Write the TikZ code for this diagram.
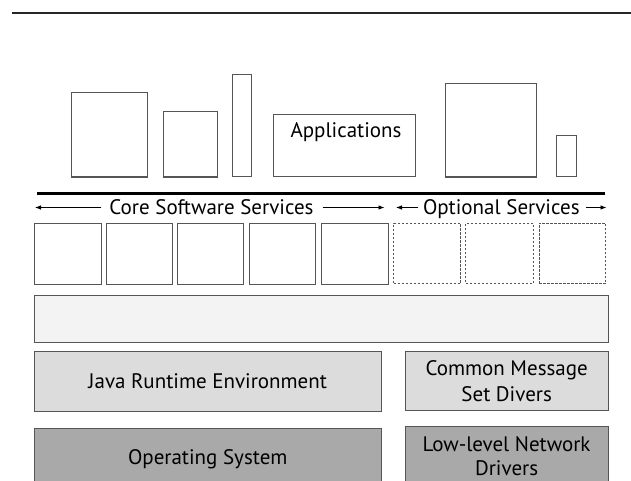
\documentclass[tikz,border=0pt]{standalone}
\usepackage{fontspec}
\setmainfont{PT Sans}
\usetikzlibrary{arrows.meta}
\definecolor{edge}{HTML}{555555}
\definecolor{paleband}{HTML}{F3F3F3}
\definecolor{lightlayer}{HTML}{DCDCDC}
\definecolor{darklayer}{HTML}{A9A9A9}
\tikzset{
  box/.style={draw=edge, line width=1pt, fill=white, anchor=north west, inner sep=0pt, outer sep=0pt},
  optbox/.style={box, dash pattern=on 2.5pt off 1.5pt},
  layer/.style={box, align=center, font=\fontsize{21}{25.5}\selectfont},
  label/.style={font=\fontsize{21}{26}\selectfont, inner sep=0pt, anchor=base},
  span/.style={line width=0.8pt, -{Latex[length=6pt,width=4.5pt]}},
}
\newcommand{\boxat}[6][box]{%
  \node[#1, minimum width=#4pt, minimum height=#5pt] (#2) at #3 {#6};}
\begin{document}
\begin{tikzpicture}[x=1pt, y=-1pt]
  \useasboundingbox (0,0) rectangle (631,481);
  % rule across the top
  \coordinate (ruleL) at (12,13);
  \coordinate (ruleR) at (631,13);
  \draw[line width=1.3pt, black!85] (ruleL) -- (ruleR);

  % application boxes
  \boxat{app1}{(71,92.5)}{76.5}{84.5}{}
  \boxat{app2}{(163.3,112)}{54}{65}{}
  \boxat{app3}{(232.5,74.3)}{18.5}{102.7}{}
  \boxat{app4}{(273.3,114.3)}{141.7}{62.7}{}
  \node[label] at (346,138) {Applications};
  \boxat{app5}{(445.7,84)}{91}{93}{}
  \boxat{app6}{(556,135.7)}{20.3}{41.3}{}

  % divider under the applications
  \coordinate (divL) at (37,193);
  \coordinate (divR) at (605,193);
  \draw[line width=3pt] (divL) -- (divR);

  % service range labels
  \node[label] (core) at (211.5,214) {Core Software Services};
  \node[label] (opt) at (501.3,214) {Optional Services};
  \coordinate (coreL) at (35,207.5);
  \coordinate (coreR) at (384.5,207.5);
  \coordinate (optL) at (396,207.5);
  \coordinate (optR) at (606.5,207.5);
  \draw[span] (core.west |- coreL) ++(-8,0) -- (coreL);
  \draw[span] (core.east |- coreR) ++(9,0) -- (coreR);
  \draw[span] (opt.west |- optL) ++(-4.5,0) -- (optL);
  \draw[span] (opt.east |- optR) ++(6.5,0) -- (optR);

  % core services
  \boxat{s1}{(34.5,223)}{66.5}{61}{}
  \boxat{s2}{(106,223)}{66.5}{61}{}
  \boxat{s3}{(177.3,223)}{66.5}{61}{}
  \boxat{s4}{(249.3,223)}{66.5}{61}{}
  \boxat{s5}{(321.7,223)}{66.5}{61}{}
  % optional services
  \boxat[optbox]{o1}{(393.5,223)}{67}{60.5}{}
  \boxat[optbox]{o2}{(465.8,223)}{67.5}{60.5}{}
  \boxat[optbox]{o3}{(539,223)}{66.7}{60.5}{}

  % platform band
  \boxat[box, fill=paleband]{band}{(34.5,295)}{573.5}{47}{}

  % runtime and drivers
  \boxat[layer, fill=lightlayer]{jre}{(34.5,351.7)}{346.5}{59.3}{Java Runtime Environment}
  \boxat[layer, fill=lightlayer]{cmsd}{(405,351.7)}{203.3}{58.6}{Common Message\\Set Divers}

  % operating system and network drivers (both run off the lower edge)
  \boxat[layer, fill=darklayer]{os}{(34.5,428.3)}{346.5}{62}{Operating System}
  \boxat[box, fill=darklayer]{lln}{(405,426.7)}{203.3}{60}{}
  \node[label] (llnA) at (506.6,451.7) {Low-level Network};
  \node[label] (llnB) at (506.6,475.5) {Drivers};
\end{tikzpicture}
\end{document}
